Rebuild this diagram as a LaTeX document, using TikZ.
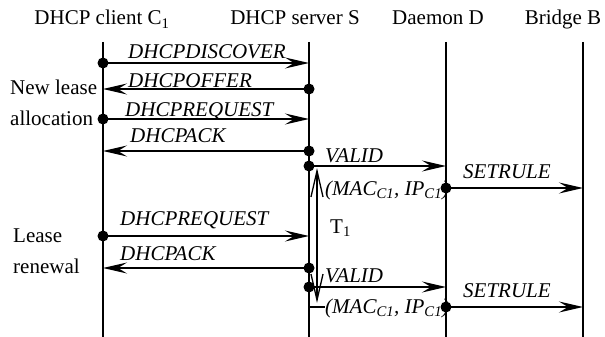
\documentclass[tikz,border=0pt]{standalone}
\usepackage{fontspec}
\setmainfont{Liberation Serif}
\usetikzlibrary{arrows.meta}
\begin{document}
\begin{tikzpicture}[x=1pt,y=-1pt,
  life/.style={line width=1.5pt},
  msg/.style={line width=1.4pt,-{Stealth[length=24pt,width=11pt,inset=9pt]}},
  dotmark/.style={circle,fill,inner sep=0pt,minimum size=11pt},
  plain/.style={font=\fontsize{21}{25}\selectfont,inner sep=0pt},
  lbl/.style={font=\fontsize{21}{25}\selectfont\itshape,inner sep=0pt,anchor=base west},
  timer/.style={line width=1.3pt,{Straight Barb[length=26pt,width=12pt]}-{Straight Barb[length=26pt,width=12pt]}}]
\useasboundingbox (0,0) rectangle (605,337);

% participants
\node[plain,anchor=base] (tc) at (102,25) {DHCP client C\textsubscript{1}};
\node[plain,anchor=base] (ts) at (295,25) {DHCP server S};
\node[plain,anchor=base] (td) at (438,25) {Daemon D};
\node[plain,anchor=base] (tb) at (563,25) {Bridge B};

% lifelines
\coordinate (c0) at (103,42);  \coordinate (cz) at (103,337);
\coordinate (s0) at (309,42);  \coordinate (sz) at (309,337);
\coordinate (d0) at (446,42);  \coordinate (dz) at (446,337);
\coordinate (b0) at (583,42);  \coordinate (bz) at (583,337);
\draw[life,line width=2pt] (c0) -- (cz);
\draw[life] (s0) -- (sz);
\draw[life] (d0) -- (dz);
\draw[life] (b0) -- (bz);

% message end points
\coordinate (c1) at (103,63);  \coordinate (s1) at (309,63);
\coordinate (s2) at (309,89);  \coordinate (c2) at (103,89);
\coordinate (c3) at (103,119); \coordinate (s3) at (309,119);
\coordinate (s4) at (309,151); \coordinate (c4) at (103,151);
\coordinate (s5) at (309,166); \coordinate (d5) at (446,166);
\coordinate (d6) at (446,188); \coordinate (b6) at (583,188);
\coordinate (c7) at (103,236); \coordinate (s7) at (309,236);
\coordinate (s8) at (309,268); \coordinate (c8) at (103,268);
\coordinate (s9) at (309,287); \coordinate (d9) at (446,287);
\coordinate (d10) at (446,307); \coordinate (b10) at (583,307);
\coordinate (s10) at (309,307); \coordinate (m10) at (325,307);

% messages
\draw[msg] (c1) -- (s1);
\draw[msg] (s2) -- (c2);
\draw[msg] (c3) -- (s3);
\draw[msg] (s4) -- (c4);
\draw[msg] (s5) -- (d5);
\draw[msg] (d6) -- (b6);
\draw[msg] (c7) -- (s7);
\draw[msg] (s8) -- (c8);
\draw[msg] (s9) -- (d9);
\draw[msg] (d10) -- (b10);
\draw[line width=1.2pt] (s10) -- (m10);

% senders
\foreach \p in {c1,s2,c3,s4,s5,d6,c7,s8,s9,d10}
  \node[dotmark] at (\p) {};

% message labels
\node[lbl] (l1) at (128,59) {DHCPDISCOVER};
\node[lbl] (l2) at (128,88) {DHCPOFFER};
\node[lbl] (l3) at (125,116) {DHCPREQUEST};
\node[lbl] (l4) at (130,142) {DHCPACK};
\node[lbl] (l5) at (325,162) {VALID};
\node[lbl] (l5b) at (325,195) {(MAC\textsubscript{C1}, IP\textsubscript{C1})};
\node[lbl] (l6) at (463,178) {SETRULE};
\node[lbl] (l7) at (120,225) {DHCPREQUEST};
\node[lbl] (l8) at (120,260) {DHCPACK};
\node[lbl] (l9) at (325,282) {VALID};
\node[lbl] (l9b) at (325,313) {(MAC\textsubscript{C1}, IP\textsubscript{C1})};
\node[lbl] (l10) at (463,297) {SETRULE};

% lease timer
\coordinate (t0) at (317,168);
\coordinate (t1) at (317,303);
\draw[timer] (t0) -- (t1);
\node[plain,anchor=base west] (tl) at (330,233) {T\textsubscript{1}};

% phase captions
\node[plain,anchor=base west] (p1) at (10,95) {New lease};
\node[plain,anchor=base west] (p2) at (10,125) {allocation};
\node[plain,anchor=base west] (p3) at (13,242) {Lease};
\node[plain,anchor=base west] (p4) at (13,273) {renewal};
\end{tikzpicture}
\end{document}
